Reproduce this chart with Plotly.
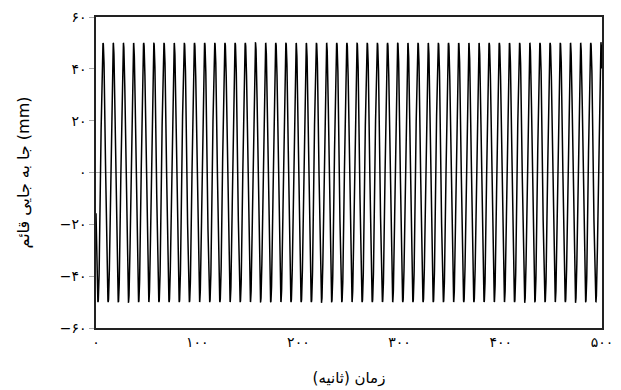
import numpy as np
import plotly.graph_objects as go

# Values
amplitude_mm = 50.0        # peaks reach +/-50 mm
period_s = 10.04           # ~50 cycles over 500 s
first_trough_s = 2.0       # first minimum near t = 2 s
t_start, t_end, t_step = 0.0, 500.0, 0.05

x_tick_vals = [0, 100, 200, 300, 400, 500]
x_tick_text = ["۰", "۱۰۰", "۲۰۰", "۳۰۰", "۴۰۰", "۵۰۰"]
y_tick_vals = [-60, -40, -20, 0, 20, 40, 60]
y_tick_text = ["−۶۰", "−۴۰", "−۲۰", "۰", "۲۰", "۴۰", "۶۰"]

x_title = "زمان (ثانیه)"
y_title = "جا به جایی قائم (mm)"

t = np.arange(t_start, t_end + t_step / 2, t_step)
y = -amplitude_mm * np.cos(2 * np.pi * (t - first_trough_s) / period_s)

fig = go.Figure()
fig.add_trace(go.Scatter(x=t, y=y, mode="lines",
                         line=dict(color="black", width=1.5),
                         hoverinfo="skip", showlegend=False))

font_family = "DejaVu Sans, Noto Sans, sans-serif"
fig.update_layout(
    width=621, height=390,
    margin=dict(l=96, r=19, t=17, b=62),
    plot_bgcolor="white", paper_bgcolor="white",
    font=dict(family=font_family, color="black", size=13),
)
fig.update_xaxes(
    range=[0, 500], tickvals=x_tick_vals, ticktext=x_tick_text,
    showgrid=False, zeroline=False, automargin=False,
    showline=True, linecolor="#222", linewidth=1.5, mirror=True,
    ticks="", tickfont=dict(size=14),
    title=dict(text=x_title, font=dict(size=15), standoff=24),
)
fig.update_yaxes(
    range=[-60, 60], tickvals=y_tick_vals, ticktext=y_tick_text,
    showgrid=False, zeroline=True, zerolinecolor="#aaaaaa", zerolinewidth=1,
    automargin=False,
    showline=True, linecolor="#222", linewidth=1.5, mirror=True,
    ticks="outside", ticklen=5, tickcolor="#aaaaaa", tickfont=dict(size=14),
    title=dict(text=y_title, font=dict(size=16), standoff=26),
)

fig.write_html("out.html")
